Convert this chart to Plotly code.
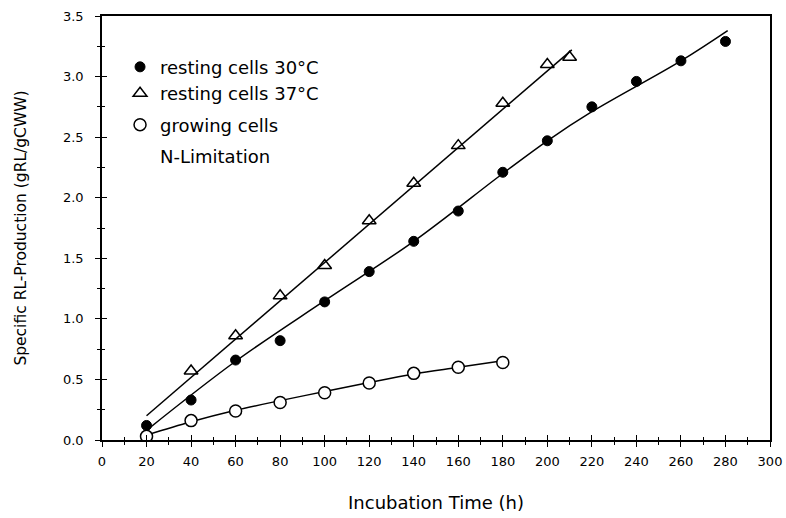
import plotly.graph_objects as go

# ---- data ----
time_30 = [20, 40, 60, 80, 100, 120, 140, 160, 180, 200, 220, 240, 260, 280]
rl_30 = [0.12, 0.33, 0.66, 0.82, 1.14, 1.39, 1.64, 1.89, 2.21, 2.47, 2.75, 2.96, 3.13, 3.29]

time_37 = [40, 60, 80, 100, 120, 140, 160, 180, 200, 210]
rl_37 = [0.57, 0.86, 1.19, 1.44, 1.81, 2.12, 2.43, 2.78, 3.10, 3.16]

time_grow = [20, 40, 60, 80, 100, 120, 140, 160, 180]
rl_grow = [0.03, 0.16, 0.24, 0.31, 0.39, 0.47, 0.55, 0.60, 0.64]

# fitted lines
fit30_x = [20, 60, 100, 140, 180, 200, 220, 260, 281]
fit30_y = [0.08, 0.65, 1.15, 1.64, 2.20, 2.47, 2.71, 3.13, 3.38]
fit37_x = [20, 211]
fit37_y = [0.20, 3.22]
fitgrow_x = [20, 40, 60, 80, 100, 120, 140, 160, 180]
fitgrow_y = [0.04, 0.15, 0.245, 0.325, 0.40, 0.475, 0.545, 0.60, 0.655]

x_ticks = [0, 20, 40, 60, 80, 100, 120, 140, 160, 180, 200, 220, 240, 260, 280, 300]
y_ticks = [0.0, 0.5, 1.0, 1.5, 2.0, 2.5, 3.0, 3.5]

FONT = "DejaVu Sans"
line_style = dict(color="black", width=1.5)

fig = go.Figure()
fig.add_trace(go.Scatter(x=fit30_x, y=fit30_y, mode="lines", line=dict(color="black", width=1.5, shape="spline", smoothing=1),
                         showlegend=False, hoverinfo="skip"))
fig.add_trace(go.Scatter(x=fit37_x, y=fit37_y, mode="lines", line=line_style, showlegend=False, hoverinfo="skip"))
fig.add_trace(go.Scatter(x=fitgrow_x, y=fitgrow_y, mode="lines", line=dict(color="black", width=1.5, shape="spline"),
                         showlegend=False, hoverinfo="skip"))

fig.add_trace(go.Scatter(x=time_30, y=rl_30, mode="markers", name="resting cells 30°C", legendgroup="rest",
                         marker=dict(symbol="circle", size=10, color="black", line=dict(color="black", width=1))))
fig.add_trace(go.Scatter(x=time_37, y=rl_37, mode="markers", name="resting cells 37°C", legendgroup="rest",
                         marker=dict(symbol="triangle-up-open", size=12, color="black", line=dict(color="black", width=1.5))))
fig.add_trace(go.Scatter(x=time_grow, y=rl_grow, mode="markers", name="growing cells", legendgroup="grow",
                         marker=dict(symbol="circle", size=12, color="white", line=dict(color="black", width=1.5))))
# legend-only second line of the growing-cells label
fig.add_trace(go.Scatter(x=[None], y=[None], mode="markers", name="N-Limitation", legendgroup="nlim",
                         marker=dict(size=1, color="rgba(0,0,0,0)", line=dict(width=0)), hoverinfo="skip"))

# invisible trace for overlay axes (inner ticks)
fig.add_trace(go.Scatter(x=[None], y=[None], xaxis="x2", yaxis="y2", mode="markers",
                         marker=dict(opacity=0), showlegend=False, hoverinfo="skip"))

axis_common = dict(showgrid=False, zeroline=False, color="black", automargin=False)

fig.update_layout(
    width=786, height=518,
    margin=dict(l=102, r=16, t=16, b=78),
    paper_bgcolor="white", plot_bgcolor="white",
    font=dict(family=FONT, color="black", size=13),
    xaxis=dict(**axis_common, range=[0, 300], tickvals=x_ticks, ticks="outside", ticklen=5, tickwidth=1.4,
               showline=True, linewidth=1.6, linecolor="black", mirror=True, ticklabelstandoff=4,
               minor=dict(ticks="outside", dtick=10, tick0=0, ticklen=3, tickwidth=1.2, tickcolor="black"),
               tickfont=dict(size=13, family=FONT),
               title=dict(text="Incubation Time (h)", font=dict(size=18, family=FONT), standoff=28)),
    yaxis=dict(**axis_common, range=[0, 3.5], tickvals=y_ticks, tickformat=".1f", ticks="outside", ticklen=5,
               tickwidth=1.4, showline=True, linewidth=1.6, linecolor="black", mirror=True, ticklabelstandoff=9,
               minor=dict(ticks="outside", dtick=0.25, tick0=0, ticklen=3, tickwidth=1.2, tickcolor="black"),
               tickfont=dict(size=13, family=FONT),
               title=dict(text="Specific RL-Production (gRL/gCWW)", font=dict(size=15.5, family=FONT), standoff=32)),
    xaxis2=dict(**axis_common, range=[0, 300], overlaying="x", anchor="y2", side="bottom",
                tickvals=x_ticks, ticks="inside", ticklen=5, tickwidth=1.4, showticklabels=False,
                minor=dict(ticks="inside", dtick=10, tick0=0, ticklen=3, tickwidth=1.2, tickcolor="black")),
    yaxis2=dict(**axis_common, range=[0, 3.5], overlaying="y", anchor="x2", side="left",
                tickvals=y_ticks, ticks="inside", ticklen=5, tickwidth=1.4, showticklabels=False,
                minor=dict(ticks="inside", dtick=0.25, tick0=0, ticklen=3, tickwidth=1.2, tickcolor="black")),
    legend=dict(x=0.027, y=0.923, xanchor="left", yanchor="top", bgcolor="rgba(0,0,0,0)",
                font=dict(size=18, family=FONT), traceorder="grouped", tracegroupgap=5),
    showlegend=True,
)

fig.write_html("out.html")
